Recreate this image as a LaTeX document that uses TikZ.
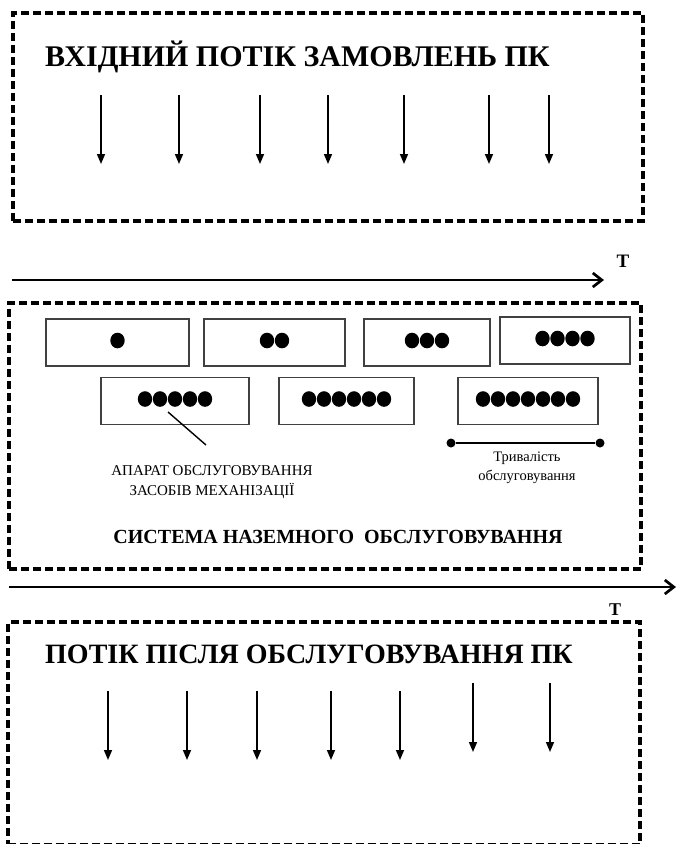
\documentclass[tikz,border=0pt]{standalone}
\usepackage{fontspec}
\setmainfont{Liberation Serif}
\usetikzlibrary{positioning, arrows.meta, calc}

\begin{document}
\begin{tikzpicture}[x=1pt, y=-1pt,
    container/.style={draw, dash pattern=on 8pt off 4pt, line width=3.2pt, inner sep=0pt},
    server/.style={draw=black!75, line width=1.2pt, inner sep=0pt, minimum height=47pt},
    heading/.style={inner sep=0pt, font=\fontsize{30}{34}\selectfont\bfseries},
    note/.style={inner sep=0pt, align=center, font=\fontsize{14.5}{19}\selectfont},
    flow/.style={-{Triangle[length=10pt, width=8pt]}, line width=1.5pt},
    timeline/.style={-{Straight Barb[length=9pt, width=14pt]}, line width=2.7pt},
    dot/.style={circle, fill, inner sep=0pt, minimum size=9pt}]
    \useasboundingbox (0,0) rectangle (676,844);

    % Container nodes
    \node[container, minimum width=630pt, minimum height=208pt] (inflow) at (328,117) {};
    \node[container, minimum width=632pt, minimum height=266pt] (ground) at (325,436) {};
    \node[container, minimum width=632pt, minimum height=222.5pt] (outflow) at (324,733.25) {};

    % Headings
    \node[heading, anchor=base west] (intitle) at (45,66) {ВХІДНИЙ ПОТІК ЗАМОВЛЕНЬ ПК};
    \node[heading, anchor=base west, font=\fontsize{28}{32}\selectfont\bfseries] (outtitle) at (45,663) {ПОТІК ПІСЛЯ ОБСЛУГОВУВАННЯ ПК};
    \node[heading, anchor=base, font=\fontsize{20}{24}\selectfont\bfseries] (systitle) at (338,543) {СИСТЕМА НАЗЕМНОГО\ \ ОБСЛУГОВУВАННЯ};

    % Service channels
    \node[server, minimum width=143pt] (srv1) at (117.5,342.5) {};
    \node[server, minimum width=141pt] (srv2) at (274.5,342.5) {};
    \node[server, minimum width=126pt] (srv3) at (427,342.5) {};
    \node[server, minimum width=130pt] (srv4) at (565,340.5) {};
    \node[server, minimum width=148pt] (srv5) at (175,401) {};
    \node[server, minimum width=135pt] (srv6) at (346.5,401) {};
    \node[server, minimum width=140pt] (srv7) at (528,401) {};
    \foreach \name/\num in {srv1/1, srv2/2, srv3/3, srv4/4, srv5/5, srv6/6, srv7/7}
        \foreach \k in {1,...,\num}
            \fill ($(\name.center)+({(\k-(\num+1)/2)*15},-2)$) ellipse (7.2pt and 7.8pt);

    % Labels
    \node[note, font=\fontsize{15}{19.5}\selectfont] (aparat) at (212,482) {АПАРАТ ОБСЛУГОВУВАННЯ\\ЗАСОБІВ МЕХАНІЗАЦІЇ};
    \coordinate (pointer) at (206,445);
    \draw[line width=1.4pt] ($(srv5.center)+(-7,11)$) -- (pointer);
    \node[dot] (durA) at (451,443) {};
    \node[dot] (durB) at (600,443) {};
    \draw[line width=1.4pt] (durA) -- (durB);
    \node[note] (duration) at (527,468) {Тривалість\\обслуговування};

    % Time axes
    \coordinate (axisA) at (12,280);
    \coordinate (axisB) at (604,280);
    \coordinate (axisC) at (9,587);
    \coordinate (axisD) at (676,587);
    \draw[timeline] (axisA) -- (axisB);
    \draw[timeline] (axisC) -- (axisD);
    \node[font=\fontsize{19}{22}\selectfont\bfseries, inner sep=0pt] (timeA) at (623,261) {T};
    \node[font=\fontsize{18}{22}\selectfont\bfseries, inner sep=0pt] (timeB) at (615,610) {T};

    % Flows
    \foreach \x in {101,179,260,328,404,489,549}
        \draw[flow] (\x,95) -- (\x,164);
    \foreach \x/\a/\b in {108/691/760, 187/691/760, 257/691/760, 331/691/760, 400/691/760, 473/683/752, 550/683/752}
        \draw[flow] (\x,\a) -- (\x,\b);
\end{tikzpicture}
\end{document}
